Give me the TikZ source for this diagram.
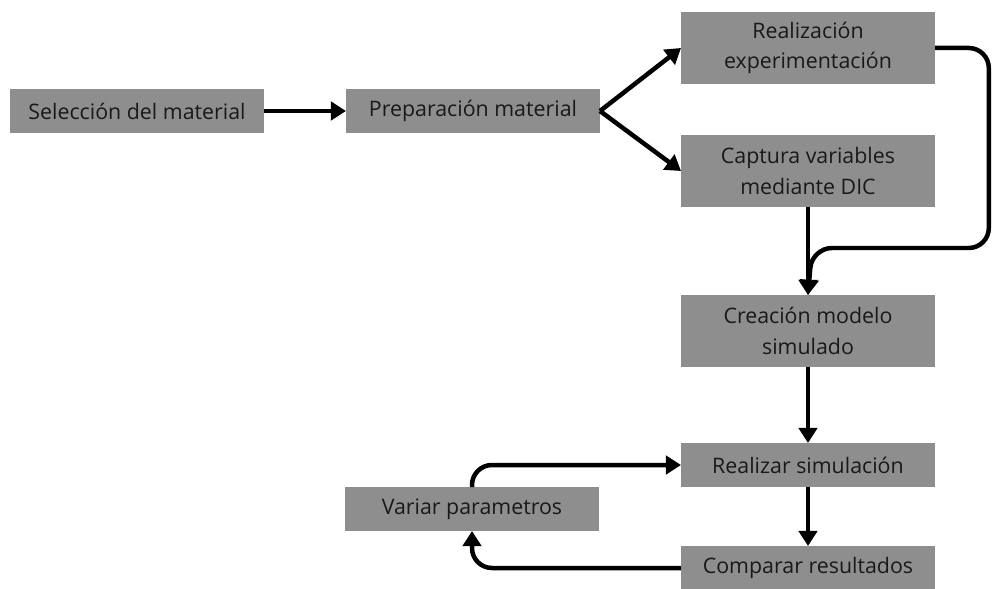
\documentclass[tikz,border=0pt]{standalone}
\usepackage{fontspec}
\setmainfont{Open Sans}
\usetikzlibrary{%
    positioning,
    arrows.meta
%   shapes, calc
}
\definecolor{boxgray}{RGB}{142,142,142}
\definecolor{boxtext}{RGB}{25,25,25}
\tikzset{
    stage/.style = {
        rectangle, fill=boxgray, text=boxtext,
        minimum width = 6.35cm,
        minimum height = 1.1cm,
        align=center,
        font=\fontsize{15.2}{21.5}\selectfont,
        outer sep=0pt,
    },
    flow/.style = {
        line width=3.2pt,
        -{Triangle[length=3.8mm, width=4.6mm]},
    }
}

\begin{document}
\begin{tikzpicture}
    \useasboundingbox (0, 0) rectangle (24.825, -14.725);
    \node[stage] (seleccion) at (3.425, -2.775) {Selección del material};
    \node[
        stage,
        right=2.05cm of seleccion
    ] (preparacion) {Preparación material};
    \node[
        stage,
        minimum height = 1.8cm
    ] (captura) at (20.2, -4.275) {Captura variables\\mediante DIC};
    \node[
        stage,
        minimum height = 1.8cm,
        above=1.275cm of captura
    ] (realizacion) {Realización\\experimentación};
    \node[
        stage,
        minimum height = 1.8cm,
        below=2.2cm of captura
    ] (creacion) {Creación modelo\\simulado};
    \node[
        stage,
        below=1.9cm of creacion
    ] (simulacion) {Realizar simulación};
    \node[
        stage,
        below=1.475cm of simulacion
    ] (comparar) {Comparar resultados};
    \node[
        stage,
        below left=0cm and 2.05cm of simulacion
    ] (variar) {Variar parametros};

    \draw[flow] (seleccion) -- (preparacion);
    \draw[flow] (preparacion.east) -- (realizacion.west);
    \draw[flow] (preparacion.east) -- (captura.west);
    \draw[flow] (captura) -- (creacion);
    % vuelta por la derecha
    \draw[flow, rounded corners=0.5cm]
        (realizacion.east) -- (24.72, -1.2) -- (24.72, -6.2)
        -- (20.3, -6.2) -- (creacion.north);
    \draw[flow] (creacion) -- (simulacion);
    \draw[flow] (simulacion) -- (comparar);
    \draw[flow, rounded corners=0.5cm] (comparar.west) -| (variar.south);
    \draw[flow, rounded corners=0.5cm] (variar.north) |- (simulacion.west);
\end{tikzpicture}
\end{document}
